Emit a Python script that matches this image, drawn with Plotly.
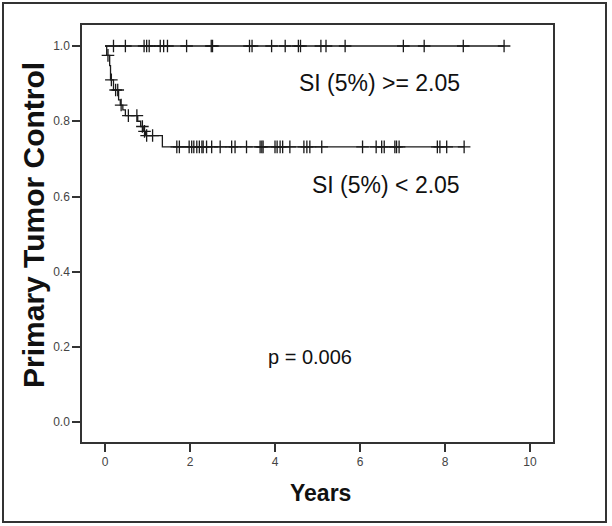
import plotly.graph_objects as go
import numpy as np

# ---- data (years, survival proportion) ----
hi_label = "SI (5%) >= 2.05"
lo_label = "SI (5%) < 2.05"
p_label = "p = 0.006"

hi_censored = [0.2, 0.48, 0.92, 0.98, 1.04, 1.3, 1.38, 1.47, 1.92, 2.5, 2.53,
               3.4, 3.46, 3.92, 4.24, 4.55, 4.6, 5.08, 5.2, 5.65, 7.02, 7.51,
               8.43, 9.39]

lo_event_times = [0.04, 0.11, 0.13, 0.2, 0.32, 0.36, 0.42, 0.48, 0.77, 0.84,
                  0.9, 0.95, 1.35]
lo_event_surv = [0.975, 0.948, 0.91, 0.883, 0.857, 0.843, 0.83, 0.815, 0.80,
                 0.786, 0.773, 0.762, 0.732]
lo_censored = [0.07, 0.15, 0.25, 0.3, 0.38, 0.55, 0.75, 0.88, 0.93, 0.98, 1.12,
               1.69, 1.75, 1.98, 2.04, 2.09, 2.16, 2.22, 2.28, 2.31, 2.39, 2.51,
               2.71, 2.98, 3.06, 3.33, 3.65, 3.69, 3.72, 4.0, 4.05, 4.12, 4.18,
               4.35, 4.68, 4.75, 4.82, 5.10, 6.06, 6.38, 6.51, 6.57, 6.82, 6.86,
               6.92, 7.82, 7.88, 8.04, 8.45]

x_ticks = [0, 2, 4, 6, 8, 10]
y_ticks = [0.0, 0.2, 0.4, 0.6, 0.8, 1.0]
y_tick_text = ["0.0", "0.2", "0.4", "0.6", "0.8", "1.0"]


def surv_at(t, times, surv):
    s = 1.0
    for ti, si in zip(times, surv):
        if ti <= t:
            s = si
    return s


LINE = "#1a1a1a"
FONT = "Liberation Sans, Arial, sans-serif"

fig = go.Figure()

# high group: flat at 1.0
hi_end = max(hi_censored)
fig.add_trace(go.Scatter(x=[0, hi_end], y=[1.0, 1.0], mode="lines",
                         line=dict(color=LINE, width=1.3), hoverinfo="skip",
                         showlegend=False))
fig.add_trace(go.Scatter(x=hi_censored, y=[surv_at(t, [], []) for t in hi_censored],
                         mode="markers",
                         marker=dict(symbol="cross-thin", size=9,
                                     line=dict(color=LINE, width=1.3)),
                         showlegend=False))

# low group: KM step curve
lo_end = max(lo_censored)
lo_x = [0] + lo_event_times + [lo_end]
lo_y = [1.0] + lo_event_surv + [lo_event_surv[-1]]
fig.add_trace(go.Scatter(x=lo_x, y=lo_y, mode="lines",
                         line=dict(color=LINE, width=1.3, shape="hv"),
                         showlegend=False))
fig.add_trace(go.Scatter(x=lo_censored,
                         y=[surv_at(t, lo_event_times, lo_event_surv) for t in lo_censored],
                         mode="markers",
                         marker=dict(symbol="cross-thin", size=9,
                                     line=dict(color=LINE, width=1.3)),
                         showlegend=False))

W, H = 612, 526
L, R, T, B = 82, 59, 25, 84
pw, ph = W - L - R, H - T - B

def px_x(px):
    return (px - L) / pw

def px_y(py):
    return (H - B - py) / ph

fig.add_annotation(x=8.4, y=0.902, xref="x", yref="y", text=hi_label,
                   showarrow=False, xanchor="right", yanchor="middle",
                   font=dict(family=FONT, size=23, color="#111"))
fig.add_annotation(x=8.4, y=0.631, xref="x", yref="y", text=lo_label,
                   showarrow=False, xanchor="right", yanchor="middle",
                   font=dict(family=FONT, size=23, color="#111"))
fig.add_annotation(x=4.82, y=0.174, xref="x", yref="y", text=p_label,
                   showarrow=False, xanchor="center", yanchor="middle",
                   font=dict(family=FONT, size=20, color="#111"))

# axis titles
fig.add_annotation(x=px_x(33), y=px_y(225), xref="paper", yref="paper",
                   text="<b>Primary Tumor Control</b>", textangle=-90,
                   showarrow=False, xanchor="center", yanchor="middle",
                   font=dict(family=FONT, size=30, color="#111"))
fig.add_annotation(x=px_x(320), y=px_y(493), xref="paper", yref="paper",
                   text="<b>Years</b>", showarrow=False,
                   xanchor="center", yanchor="middle",
                   font=dict(family=FONT, size=23, color="#111"))

# outer frame
fig.add_shape(type="rect", xref="paper", yref="paper",
              x0=px_x(3), x1=px_x(606), y0=px_y(522), y1=px_y(3),
              line=dict(color="#333", width=2), fillcolor="rgba(0,0,0,0)")

fig.update_xaxes(range=[-0.541, 10.541], tickvals=x_ticks,
                 ticks="outside", ticklen=8, tickwidth=1.5, tickcolor="#333",
                 showline=True, linecolor="#333", linewidth=1.5, mirror=True,
                 showgrid=False, zeroline=False,
                 tickfont=dict(family=FONT, size=12, color="#444"))
fig.update_yaxes(range=[-0.0524, 1.0558], tickvals=y_ticks, ticktext=y_tick_text,
                 ticks="outside", ticklen=8, tickwidth=1.5, tickcolor="#333",
                 showline=True, linecolor="#333", linewidth=1.5, mirror=True,
                 showgrid=False, zeroline=False,
                 tickfont=dict(family=FONT, size=12, color="#444"))

fig.update_layout(width=W, height=H, margin=dict(l=L, r=R, t=T, b=B),
                  plot_bgcolor="white", paper_bgcolor="white",
                  showlegend=False)

fig.write_html("out.html", config={"displayModeBar": False},
               post_script="document.body.style.margin='0';document.body.style.overflow='hidden';")
